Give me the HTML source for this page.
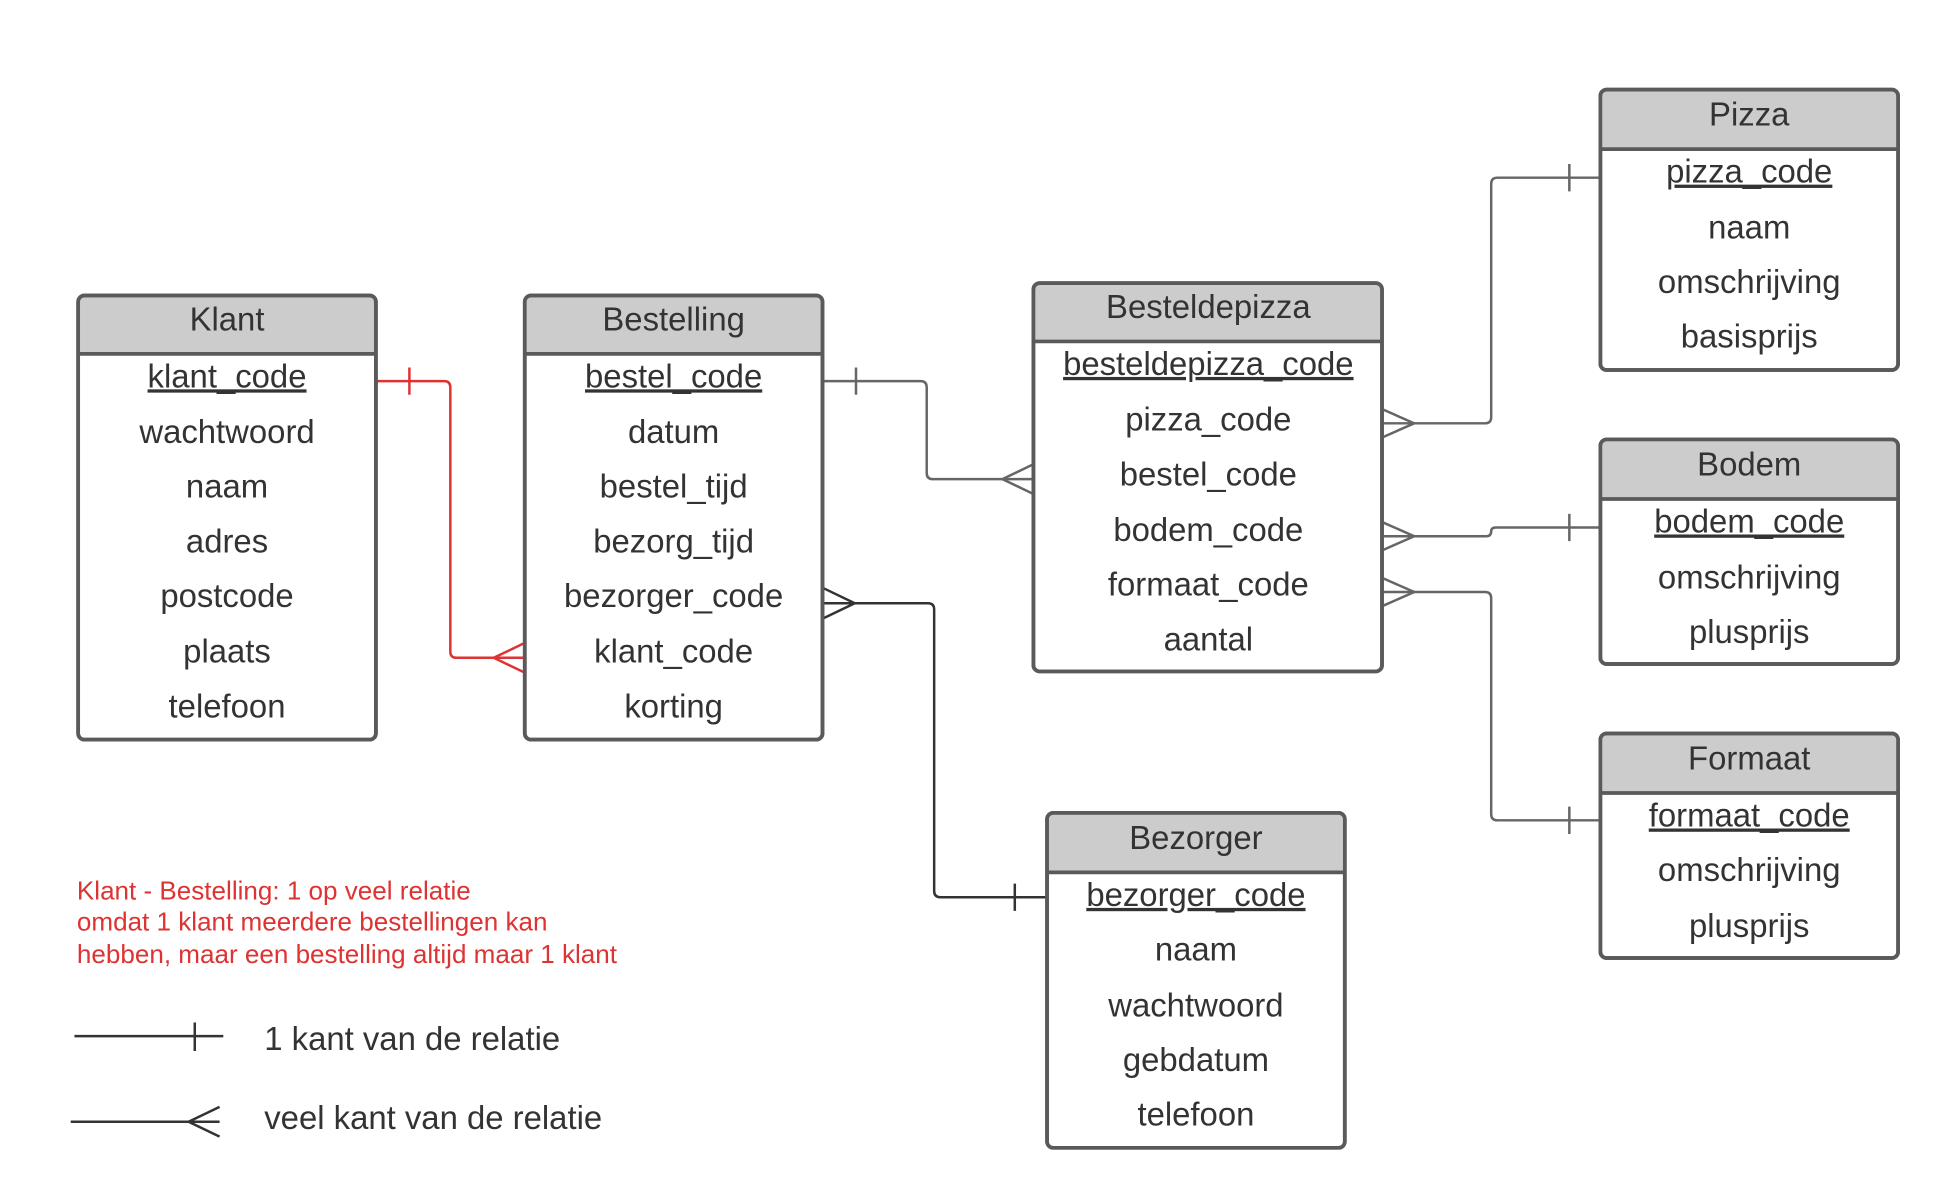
<!DOCTYPE html>
<html><head><meta charset="utf-8"><style>
html,body{margin:0;padding:0;background:#fff;width:1944px;height:1194px;overflow:hidden}
svg{display:block}
text{font-family:"Liberation Sans",sans-serif}
.t{font-size:26.5px;fill:#333;text-anchor:middle}
.b{fill:#fff;stroke:#5a5a5a;stroke-width:3}
.h{fill:#cccccc;stroke:none}
.c{fill:none;stroke:#666;stroke-width:2}
.k{fill:none;stroke:#333;stroke-width:2}
.r{fill:none;stroke:#d33;stroke-width:2}
</style></head><body>
<svg width="1944" height="1194" viewBox="0 0 1567 962" xmlns="http://www.w3.org/2000/svg">
<!-- connectors -->
<path class="r" d="M304 307 H358 Q363 307 363 312 V525 Q363 530 368 530 H423"/>
<path class="r" d="M330 296 V318 M423 518 L398 530 L423 542"/>
<path class="c" d="M664 307 H742 Q747 307 747 312 V381 Q747 386 752 386 H833"/>
<path class="c" d="M690 296 V318 M833 374 L808 386 L833 398"/>
<path class="k" d="M664 486 H748 Q753 486 753 491 V718 Q753 723 758 723 H844"/>
<path class="k" d="M664 474 L689 486 L664 498 M818 712 V734"/>
<path class="c" d="M1115 341 H1197 Q1202 341 1202 336 V148 Q1202 143 1207 143 H1290"/>
<path class="c" d="M1265 132 V154 M1115 330 L1140 341 L1115 352"/>
<path class="c" d="M1115 432 H1198 Q1202 432 1202 428 Q1202 425 1206 425 H1290"/>
<path class="c" d="M1265 414 V436 M1115 421 L1140 432 L1115 443"/>
<path class="c" d="M1115 477 H1197 Q1202 477 1202 482 V656 Q1202 661 1207 661 H1290"/>
<path class="c" d="M1265 650 V672 M1115 466 L1140 477 L1115 488"/>
<!-- tables -->
<g>
<rect class="b" x="63" y="238" width="240" height="358" rx="5"/>
<rect class="h" x="64.5" y="239.5" width="237" height="45"/>
<line x1="63" y1="285" x2="303" y2="285" stroke="#5a5a5a" stroke-width="3"/>
<rect x="63" y="238" width="240" height="358" rx="5" fill="none" stroke="#5a5a5a" stroke-width="3"/>
<text class="t" x="183" y="266">Klant</text>
<text class="t" x="183" y="312" text-decoration="underline">klant_code</text>
<text class="t" x="183" y="357">wachtwoord</text>
<text class="t" x="183" y="401">naam</text>
<text class="t" x="183" y="445">adres</text>
<text class="t" x="183" y="489">postcode</text>
<text class="t" x="183" y="534">plaats</text>
<text class="t" x="183" y="578">telefoon</text>
</g>
<g>
<rect class="b" x="423" y="238" width="240" height="358" rx="5"/>
<rect class="h" x="424.5" y="239.5" width="237" height="45"/>
<line x1="423" y1="285" x2="663" y2="285" stroke="#5a5a5a" stroke-width="3"/>
<rect x="423" y="238" width="240" height="358" rx="5" fill="none" stroke="#5a5a5a" stroke-width="3"/>
<text class="t" x="543" y="266">Bestelling</text>
<text class="t" x="543" y="312" text-decoration="underline">bestel_code</text>
<text class="t" x="543" y="357">datum</text>
<text class="t" x="543" y="401">bestel_tijd</text>
<text class="t" x="543" y="445">bezorg_tijd</text>
<text class="t" x="543" y="489">bezorger_code</text>
<text class="t" x="543" y="534">klant_code</text>
<text class="t" x="543" y="578">korting</text>
</g>
<g>
<rect class="b" x="833" y="228" width="281" height="313" rx="5"/>
<rect class="h" x="834.5" y="229.5" width="278" height="45"/>
<line x1="833" y1="275" x2="1114" y2="275" stroke="#5a5a5a" stroke-width="3"/>
<rect x="833" y="228" width="281" height="313" rx="5" fill="none" stroke="#5a5a5a" stroke-width="3"/>
<text class="t" x="974" y="256">Besteldepizza</text>
<text class="t" x="974" y="302" text-decoration="underline">besteldepizza_code</text>
<text class="t" x="974" y="347">pizza_code</text>
<text class="t" x="974" y="391">bestel_code</text>
<text class="t" x="974" y="436">bodem_code</text>
<text class="t" x="974" y="480">formaat_code</text>
<text class="t" x="974" y="524">aantal</text>
</g>
<g>
<rect class="b" x="1290" y="72" width="240" height="226" rx="5"/>
<rect class="h" x="1291.5" y="73.5" width="237" height="46"/>
<line x1="1290" y1="120" x2="1530" y2="120" stroke="#5a5a5a" stroke-width="3"/>
<rect x="1290" y="72" width="240" height="226" rx="5" fill="none" stroke="#5a5a5a" stroke-width="3"/>
<text class="t" x="1410" y="101">Pizza</text>
<text class="t" x="1410" y="147" text-decoration="underline">pizza_code</text>
<text class="t" x="1410" y="192">naam</text>
<text class="t" x="1410" y="236">omschrijving</text>
<text class="t" x="1410" y="280">basisprijs</text>
</g>
<g>
<rect class="b" x="1290" y="354" width="240" height="181" rx="5"/>
<rect class="h" x="1291.5" y="355.5" width="237" height="46"/>
<line x1="1290" y1="402" x2="1530" y2="402" stroke="#5a5a5a" stroke-width="3"/>
<rect x="1290" y="354" width="240" height="181" rx="5" fill="none" stroke="#5a5a5a" stroke-width="3"/>
<text class="t" x="1410" y="383">Bodem</text>
<text class="t" x="1410" y="429" text-decoration="underline">bodem_code</text>
<text class="t" x="1410" y="474">omschrijving</text>
<text class="t" x="1410" y="518">plusprijs</text>
</g>
<g>
<rect class="b" x="1290" y="591" width="240" height="181" rx="5"/>
<rect class="h" x="1291.5" y="592.5" width="237" height="46"/>
<line x1="1290" y1="639" x2="1530" y2="639" stroke="#5a5a5a" stroke-width="3"/>
<rect x="1290" y="591" width="240" height="181" rx="5" fill="none" stroke="#5a5a5a" stroke-width="3"/>
<text class="t" x="1410" y="620">Formaat</text>
<text class="t" x="1410" y="666" text-decoration="underline">formaat_code</text>
<text class="t" x="1410" y="710">omschrijving</text>
<text class="t" x="1410" y="755">plusprijs</text>
</g>
<g>
<rect class="b" x="844" y="655" width="240" height="270" rx="5"/>
<rect class="h" x="845.5" y="656.5" width="237" height="46"/>
<line x1="844" y1="703" x2="1084" y2="703" stroke="#5a5a5a" stroke-width="3"/>
<rect x="844" y="655" width="240" height="270" rx="5" fill="none" stroke="#5a5a5a" stroke-width="3"/>
<text class="t" x="964" y="684">Bezorger</text>
<text class="t" x="964" y="730" text-decoration="underline">bezorger_code</text>
<text class="t" x="964" y="774">naam</text>
<text class="t" x="964" y="819">wachtwoord</text>
<text class="t" x="964" y="863">gebdatum</text>
<text class="t" x="964" y="907">telefoon</text>
</g>
<!-- note -->
<g font-size="21" fill="#d33">
<text x="62" y="725">Klant - Bestelling: 1 op veel relatie</text>
<text x="62" y="750">omdat 1 klant meerdere bestellingen kan</text>
<text x="62" y="776">hebben, maar een bestelling altijd maar 1 klant</text>
</g>
<!-- legend -->
<path class="k" d="M60 835 H180 M157 824 V847"/>
<text x="213" y="846" font-size="26.5" fill="#333">1 kant van de relatie</text>
<path class="k" d="M57 904 H177 M177 892 L152 904 L177 916"/>
<text x="213" y="910" font-size="26.5" fill="#333">veel kant van de relatie</text>
</svg>
</body></html>
